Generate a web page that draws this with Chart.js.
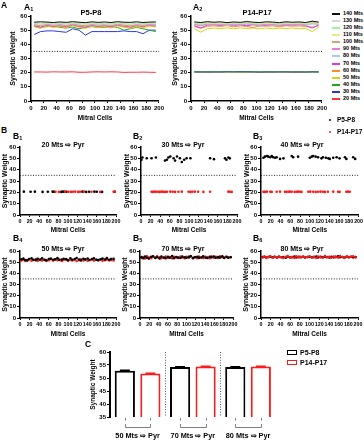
<!DOCTYPE html>
<html><head><meta charset="utf-8">
<script src="https://cdn.jsdelivr.net/npm/chart.js@4"></script>
<style>
body{margin:0;width:364px;height:440px;background:#fff;position:relative;overflow:hidden;font-family:"Liberation Sans",Arial,sans-serif;font-weight:bold;color:#000}
canvas{position:absolute}
.t{position:absolute;white-space:nowrap;line-height:1}
.t sub{font-size:65%;vertical-align:-0.3em;line-height:0}
.sw{position:absolute}
</style></head><body>
<script>
// ---------- DATA ----------
const X_MIN = 0, X_MAX = 200, X_STEP = 20;
const THRESHOLD = 35;
const MITRAL_X = [5,15,25,35,45,55,65,75,85,95,105,115,125,135,145,155,165,175,185,195];
const SERIES = ['20 Mts','30 Mts','40 Mts','50 Mts','60 Mts','70 Mts','80 Mts','90 Mts','100 Mts','110 Mts','120 Mts','130 Mts','140 Mts'];
const SERIES_COLORS = ['#ff3340','#2a36e0','#26a326','#d6d21e','#ff8a2a','#d63ae6','#9ecff2','#ee7fcf','#c9a57a','#ece98c','#9ff29a','#d6d6d6','#111111'];

// A1: P5-P8
const A1_20  = [20.5,20.5,20.4,20.6,20.5,20.5,20.6,20.3,20.3,20.5,20.6,20.5,20.6,20.5,20.2,20.3,20.3,20.4,20.3,20.2];
const A1_30  = [47.0,49.0,49.5,49.5,49.0,48.5,51.0,50.0,46.5,49.0,49.0,49.0,49.0,49.0,49.5,49.0,49.0,47.5,50.0,50.0];
const A1_40  = [53.0,52.0,52.5,53.0,52.0,51.5,52.2,51.0,52.0,52.5,52.0,52.0,52.5,52.0,50.0,51.0,52.0,51.0,50.0,49.0];
const A1_50  = [52.4,51.3,53.0,51.9,52.7,51.6,53.2,52.1,51.2,52.9,51.9,52.5,51.6,53.0,52.1,51.3,52.6,51.7,52.8,52.3];
const A1_60  = [52.9,51.8,53.4,52.4,53.1,52.0,53.6,52.6,51.8,53.3,52.4,53.0,52.1,53.5,52.6,51.9,53.1,52.4,53.3,52.7];
const A1_70  = [53.3,52.2,53.8,52.8,53.5,52.5,54.0,53.0,52.3,53.6,52.8,53.4,52.5,53.9,53.0,52.3,53.5,52.8,53.7,53.1];
const A1_80  = [53.7,52.9,54.0,53.3,53.8,53.0,54.2,53.4,52.8,53.9,53.3,53.7,53.0,54.1,53.4,52.8,53.8,53.2,53.9,53.5];
const A1_90  = [53.9,53.2,54.3,53.6,54.1,53.3,54.4,53.7,53.1,54.2,53.6,54.0,53.3,54.3,53.7,53.0,54.1,53.5,54.2,53.8];
const A1_100 = [54.2,53.6,54.6,53.9,54.4,53.7,54.7,54.0,53.5,54.5,53.9,54.3,53.7,54.6,54.0,53.4,54.4,53.8,54.5,54.1];
const A1_110 = [54.5,53.9,54.8,54.2,54.6,54.0,54.9,54.3,53.9,54.7,54.2,54.5,54.0,54.8,54.3,53.8,54.6,54.1,54.7,54.4];
const A1_120 = [54.8,54.4,55.1,54.6,54.9,54.5,55.0,54.7,54.4,55.1,54.6,54.9,54.5,55.0,54.7,54.3,54.9,54.6,55.1,54.8];
const A1_130 = [55.2,55.0,55.4,55.1,55.3,55.0,55.5,55.2,55.1,55.4,55.2,55.0,55.3,55.5,55.1,55.3,55.2,55.0,55.4,55.2];
const A1_140 = [55.6,55.9,55.7,55.4,55.8,55.5,56.0,55.6,55.3,55.9,55.5,55.8,55.4,56.0,55.6,55.5,55.9,55.4,55.7,55.8];

// A2: P14-P17
const A2_20  = [20.4,20.5,20.3,20.5,20.4,20.6,20.5,20.4,20.5,20.4,20.3,20.4,20.5,20.4,20.5,20.4,20.3,20.4,20.6,20.5];
const A2_30  = [20.6,20.5,20.6,20.5,20.6,20.7,20.6,20.8,20.7,20.6,20.5,20.6,20.5,20.6,20.6,20.5,20.6,20.5,20.6,20.5];
const A2_40  = [20.5,20.6,20.4,20.6,20.5,20.5,20.6,20.5,20.4,20.6,20.5,20.5,20.4,20.6,20.5,20.5,20.6,20.4,20.5,20.5];
const A2_50  = [51.0,48.6,51.0,51.5,51.0,51.6,51.0,51.5,51.2,51.5,51.0,51.5,51.0,51.4,51.2,51.5,51.0,51.2,49.0,52.0];
const A2_60  = [52.6,51.3,52.8,53.0,52.6,53.2,52.4,53.0,52.7,51.8,53.2,52.8,53.0,52.5,53.1,52.8,53.0,52.6,52.2,53.0];
const A2_70  = [53.2,51.6,53.6,53.8,53.3,53.9,53.4,53.7,53.1,53.8,52.9,53.5,53.8,53.2,53.7,53.4,53.9,53.3,51.5,53.6];
const A2_80  = [53.8,53.0,54.1,53.7,54.0,53.4,54.1,53.6,54.2,53.7,53.4,54.0,53.7,53.3,54.1,53.6,54.0,53.5,54.3,53.9];
const A2_90  = [54.1,53.4,54.4,54.0,54.3,53.7,54.4,53.9,54.5,54.0,53.7,54.3,54.0,53.6,54.4,53.9,54.3,53.8,56.5,54.2];
const A2_100 = [54.5,53.9,54.7,54.3,54.6,54.1,54.7,54.3,54.8,54.4,54.1,54.6,54.4,54.0,54.7,54.3,54.6,54.2,54.9,54.5];
const A2_110 = [54.8,54.3,55.0,54.6,54.9,54.4,55.0,54.6,55.1,54.7,54.4,54.9,54.7,54.3,55.0,54.6,54.9,54.5,55.2,54.8];
const A2_120 = [55.1,54.7,55.4,55.0,55.3,54.8,55.3,54.9,55.4,55.0,54.8,55.3,55.1,54.7,55.3,55.0,55.2,54.8,55.5,55.1];
const A2_130 = [55.4,55.1,55.6,55.3,55.5,55.0,55.6,55.2,55.7,55.3,55.1,55.5,55.4,55.0,55.6,55.3,55.5,55.1,55.8,55.4];
const A2_140 = [55.8,55.4,56.0,55.6,55.9,55.3,55.8,55.5,56.1,55.6,55.4,55.9,55.7,55.3,55.9,55.6,55.8,55.4,56.3,55.7];

const A1_SERIES = [A1_20,A1_30,A1_40,A1_50,A1_60,A1_70,A1_80,A1_90,A1_100,A1_110,A1_120,A1_130,A1_140];
const A2_SERIES = [A2_20,A2_30,A2_40,A2_50,A2_60,A2_70,A2_80,A2_90,A2_100,A2_110,A2_120,A2_130,A2_140];

// B panels (scatter): x = mitral cell, y = synaptic weight
const GROUPS = ['P5-P8','P14-P17'];
const B1_X_P5  = [8,22,31,47,58,68,71,86,89,92,97,130,138,144,155,160,171,197];
const B1_Y_P5  = [20.6,20.5,20.6,20.4,20.5,20.6,20.5,20.4,20.6,20.5,20.5,20.6,20.4,20.5,20.6,20.5,20.4,20.5];
const B1_X_P14 = [74,81,94,101,106,110,115,121,125,133,149,167,195,199];
const B1_Y_P14 = [20.5,20.4,20.6,20.5,20.4,20.5,20.6,20.4,20.5,20.6,20.5,20.4,20.5,20.6];

const B2_X_P5  = [1,3,12,22,31,50,54,57,61,68,71,75,81,85,90,95,103,144,152,175,178,182,185];
const B2_Y_P5  = [48.7,50.7,50.1,50.1,50.7,48.0,48.7,50.7,51.6,50.1,48.0,51.6,50.1,46.7,48.7,50.1,50.1,50.1,49.3,50.0,48.7,50.7,50.0];
const B2_X_P14 = [22,25,29,32,36,39,43,46,50,54,61,66,71,78,85,99,103,107,112,119,130,144,182,185,189];
const B2_Y_P14 = [20.5,20.4,20.6,20.5,20.5,20.4,20.6,20.5,20.4,20.5,20.6,20.5,20.4,20.5,20.6,20.5,20.4,20.5,20.6,20.5,20.4,20.5,20.6,20.5,20.4];

const B3_X_P5  = [5,8,12,15,19,22,25,29,32,39,46,63,66,76,100,104,107,112,117,124,127,133,138,141,148,155,161,172,175,189,193];
const B3_Y_P5  = [50.5,51.5,52.0,51.5,51.0,52.0,51.0,50.5,51.0,49.5,50.0,52.0,51.0,51.5,50.5,51.5,52.0,51.5,51.0,50.0,51.0,50.5,50.0,49.5,50.5,51.0,50.0,51.0,49.5,51.0,49.5];
const B3_X_P14 = [5,8,12,19,22,32,39,49,52,56,59,63,69,73,76,80,83,97,101,107,112,117,122,127,131,137,148,158,161,175,178,182];
const B3_Y_P14 = [20.5,20.4,20.6,20.5,20.4,20.5,20.6,20.5,20.4,20.5,20.6,20.5,20.4,20.5,20.6,20.5,20.4,20.5,20.6,20.5,20.4,20.5,20.6,20.5,20.4,20.5,20.6,20.5,20.4,20.5,20.6,20.5];

const B456_X = [3,7,11,15,19,24,28,33,37,42,46,51,55,60,64,69,73,78,82,87,91,96,100,105,109,114,118,123,127,132,136,141,145,150,154,159,163,168,172,177,181,186,190,195];
const B4_Y_P5  = [52.5,53.2,52,51.6,52.8,53.4,52.2,51.8,53,52.4,53.5,52,51.7,52.9,53.3,52.1,52.6,53.6,51.9,52.3,53.1,52.7,51.8,53.4,52.2,52.9,53.7,52.4,51.6,53,52.5,53.3,52,52.8,53.5,52.1,51.8,52.6,53.2,52.4,53.6,52.2,52.9,53.1];
const B4_Y_P14 = [51.6,52.2,51,51.8,52.5,51.3,51.9,52.7,51.2,52,51.5,52.3,51.1,51.8,52.6,51.4,52.1,51.7,52.4,51,51.9,52.5,51.3,52,51.6,52.2,51.1,51.8,52.6,51.5,52.3,51.2,51.9,52.4,51.4,52.1,51.7,52.5,51.2,51.8,52.3,51.5,52,51.6];
const B5_Y_P5  = [54.5,53.5,55,54,53.2,54.8,55.3,53.8,54.4,53.3,55.1,54.2,53.6,54.9,54,55.4,53.5,54.6,54.1,53.7,55,54.3,53.9,54.7,55.2,53.6,54.4,54.9,53.8,54.2,55.3,54,53.7,54.8,54.3,55.1,53.9,54.5,54.1,55.2,53.8,54.6,54,54.4];
const B5_Y_P14 = [53.8,54.6,53.3,55.2,54.1,53.5,54.8,53.9,55.3,54.4,53.6,54,55,53.7,54.5,53.4,54.9,54.2,53.8,55.1,54.3,53.6,54.7,54,55.4,53.9,54.6,53.5,55,54.2,53.7,54.8,54.4,53.6,55.2,54,54.7,53.8,55.3,54.5,53.9,55,54.1,54.6];
const B6_Y_P5  = [54.5,54.8,54.2,54.6,55,54.3,54.7,54.1,54.9,54.4,54.6,54,54.8,54.3,54.5,55.1,54.2,54.7,54.4,54.9,54.1,54.6,54.8,54.3,54.5,55,54.2,54.7,54.4,54.9,54.6,54.1,54.8,54.3,54.7,55.2,54.4,54.6,54.2,54.8,54.5,54.9,54.3,54.6];
const B6_Y_P14 = [54.2,55.1,53.8,54.6,55.3,54,54.8,53.9,55,54.4,53.7,54.9,55.4,54.1,54.5,53.8,55.2,54.3,54.7,55,53.9,54.6,55.3,54.2,54.8,53.7,55.1,54.4,54,55.5,54.3,54.7,53.9,55,54.5,54.1,55.4,54.6,53.8,55.2,54.3,54.9,55.3,54.2];

// C: bar chart
const C_LABELS   = ['50 Mts \u21E8 Pyr','70 Mts \u21E8 Pyr','80 Mts \u21E8 Pyr'];
const C_P5       = [52.8,54.2,54.2];
const C_P5_SEM   = [0.15,0.15,0.15];
const C_P14      = [51.7,54.4,54.4];
const C_P14_SEM  = [0.15,0.15,0.15];

// ---------- STYLE / HELPERS ----------
const BLACK = '#000', RED = '#ff1a1a';
Chart.defaults.font.family = '"Liberation Sans", Arial, sans-serif';
Chart.defaults.font.weight = 'bold';
Chart.defaults.color = '#000';

function label(html, x, y, size, align) {
  const d = document.createElement('div');
  d.className = 't'; d.innerHTML = html;
  d.style.fontSize = size + 'px'; d.style.left = x + 'px'; d.style.top = y + 'px';
  d.style.transform = align === 'center' ? 'translate(-50%,-50%)' : 'translate(0,-50%)';
  document.body.appendChild(d);
}
function swatch(x, y, w, h, css) {
  const d = document.createElement('div');
  d.className = 'sw';
  d.style.left = x + 'px'; d.style.top = y + 'px'; d.style.width = w + 'px'; d.style.height = h + 'px';
  Object.assign(d.style, css);
  document.body.appendChild(d);
}
function frame(box, plot) {
  const c = document.createElement('canvas');
  c.width = box.r - box.l; c.height = box.b - box.t;
  c.style.left = box.l + 'px'; c.style.top = box.t + 'px';
  document.body.appendChild(c);
  return { c, pad: { left: 0, top: plot.t - box.t, right: box.r - plot.r, bottom: 0 }, yW: plot.l - box.l, xH: box.b - plot.b };
}
function yAxis(f, o) {
  return { type: 'linear', position: 'left', min: o.min, max: o.max,
    afterFit(s) { s.width = f.yW; },
    ticks: { stepSize: o.step, font: { size: o.tick }, padding: 1, autoSkip: false },
    grid: { display: true, drawOnChartArea: false, drawTicks: true, tickLength: 3, color: BLACK, lineWidth: 1 },
    border: { display: true, color: BLACK, width: o.bw || 1.5 },
    title: { display: true, text: 'Synaptic Weight', font: { size: o.title }, padding: { top: o.tpad, bottom: 0 } } };
}
function xAxis(f, o) {
  return { type: 'linear', position: 'bottom', min: X_MIN, max: X_MAX,
    afterFit(s) { s.height = f.xH; },
    ticks: { stepSize: X_STEP, font: { size: o.tick }, padding: o.tp, autoSkip: false, maxRotation: 0, minRotation: 0 },
    grid: { display: true, drawOnChartArea: false, drawTicks: true, tickLength: 2, color: BLACK, lineWidth: 1 },
    border: { display: true, color: BLACK, width: 1.5 },
    title: { display: true, text: 'Mitral Cells', font: { size: o.title }, padding: { top: 0, bottom: o.tpad } } };
}
function baseOpts(f, scales) {
  return { responsive: false, animation: false, devicePixelRatio: 1, events: [],
    layout: { padding: f.pad },
    plugins: { legend: { display: false }, tooltip: { enabled: false }, title: { display: false } },
    scales };
}
function thresholdDS() {
  return { type: 'line', label: 'threshold', data: [{ x: X_MIN, y: THRESHOLD }, { x: X_MAX, y: THRESHOLD }],
    borderColor: '#222', borderWidth: 1, borderDash: [1, 1.6], pointRadius: 0, order: 50 };
}
const pts = (xs, ys) => xs.map((x, i) => ({ x, y: ys[i] }));

// ---------- PANEL A ----------
function lineChart(f, seriesArr) {
  const ds = [];
  for (let k = seriesArr.length - 1; k >= 0; k--) {
    ds.push({ type: 'line', label: SERIES[k], data: pts(MITRAL_X, seriesArr[k]),
      borderColor: SERIES_COLORS[k], borderWidth: 1, pointRadius: 0, tension: 0, order: seriesArr.length - k });
  }
  ds.push(thresholdDS());
  new Chart(f.c, { type: 'line', data: { datasets: ds },
    options: baseOpts(f, {
      x: xAxis(f, { tick: 6, tp: 2, title: 6.5, tpad: 2 }),
      y: yAxis(f, { min: 0, max: 60, step: 10, tick: 6, title: 7, tpad: f.ytp })
    }) });
}
const fA1 = frame({ l: 4, t: 8, r: 166, b: 124 }, { l: 31, t: 16, r: 159, b: 101 }); fA1.ytp = 5;
lineChart(fA1, A1_SERIES);
const fA2 = frame({ l: 170, t: 8, r: 329, b: 124 }, { l: 191, t: 16, r: 322, b: 101 }); fA2.ytp = 1;
lineChart(fA2, A2_SERIES);

// legend A2
for (let i = 0; i < SERIES.length; i++) {
  const k = SERIES.length - 1 - i;
  const y = 14 + i * 7.08;
  swatch(332, y - 1, 8, 2, { background: SERIES_COLORS[k] });
  label(SERIES[k], 343, y, 5.5);
}

// ---------- PANEL B ----------
function scatterChart(f, p5, p14) {
  const ds = [
    { type: 'scatter', label: GROUPS[0], data: p5, pointRadius: 1.3, pointBackgroundColor: BLACK, pointBorderWidth: 0, order: 2 },
    { type: 'scatter', label: GROUPS[1], data: p14, pointRadius: 1.3, pointBackgroundColor: RED, pointBorderWidth: 0, order: f.redOrder || 1 },
    thresholdDS()
  ];
  new Chart(f.c, { type: 'scatter', data: { datasets: ds },
    options: baseOpts(f, {
      x: xAxis(f, { tick: 5.3, tp: 1, title: 6.5, tpad: f.xtp }),
      y: yAxis(f, { min: 0, max: 60, step: 10, tick: 6, title: 7, tpad: f.ytp })
    }) });
}
const ROW1 = { t: 141, pt: 147, pb: 215, b: 236 };
const ROW2 = { t: 245, pt: 251, pb: 318, b: 340 };
const fB1 = frame({ l: 0, t: ROW1.t, r: 123, b: ROW1.b }, { l: 20, t: ROW1.pt, r: 116, b: ROW1.pb }); fB1.ytp = 1; fB1.xtp = 2;
scatterChart(fB1, pts(B1_X_P5, B1_Y_P5), pts(B1_X_P14, B1_Y_P14));
const fB2 = frame({ l: 121, t: ROW1.t, r: 244, b: ROW1.b }, { l: 141, t: ROW1.pt, r: 237, b: ROW1.pb }); fB2.ytp = 2; fB2.xtp = 2;
scatterChart(fB2, pts(B2_X_P5, B2_Y_P5), pts(B2_X_P14, B2_Y_P14));
const fB3 = frame({ l: 241, t: ROW1.t, r: 364, b: ROW1.b }, { l: 261, t: ROW1.pt, r: 359, b: ROW1.pb }); fB3.ytp = 2; fB3.xtp = 2;
scatterChart(fB3, pts(B3_X_P5, B3_Y_P5), pts(B3_X_P14, B3_Y_P14));
const fB4 = frame({ l: 0, t: ROW2.t, r: 123, b: ROW2.b }, { l: 20, t: ROW2.pt, r: 116, b: ROW2.pb }); fB4.ytp = 1; fB4.xtp = 2; fB4.redOrder = 3;
scatterChart(fB4, pts(B456_X, B4_Y_P5), pts(B456_X, B4_Y_P14));
const fB5 = frame({ l: 120, t: ROW2.t, r: 240, b: ROW2.b }, { l: 140, t: ROW2.pt, r: 233, b: ROW2.pb }); fB5.ytp = 1; fB5.xtp = 2; fB5.redOrder = 3;
scatterChart(fB5, pts(B456_X, B5_Y_P5), pts(B456_X, B5_Y_P14));
const fB6 = frame({ l: 241, t: ROW2.t, r: 364, b: ROW2.b }, { l: 261, t: ROW2.pt, r: 358, b: ROW2.pb }); fB6.ytp = 1; fB6.xtp = 2;
scatterChart(fB6, pts(B456_X, B6_Y_P5), pts(B456_X, B6_Y_P14));

// legend B
swatch(328.7, 118.7, 2.6, 2.6, { background: BLACK, borderRadius: '50%' });
label(GROUPS[0], 337, 120, 6.5);
swatch(328.7, 130.7, 2.6, 2.6, { background: RED, borderRadius: '50%' });
label(GROUPS[1], 337, 132, 6.5);

// ---------- PANEL C ----------
const cExtras = { id: 'cExtras', afterDatasetsDraw(chart) {
  const { ctx, chartArea: a, scales: { x, y } } = chart;
  ctx.save();
  chart.data.datasets.forEach((ds, di) => {
    chart.getDatasetMeta(di).data.forEach((bar, i) => {
      const v = ds.data[i], e = ds.err[i];
      const yt = y.getPixelForValue(v + e), yb = y.getPixelForValue(v - e);
      ctx.strokeStyle = ds.borderColor; ctx.lineWidth = 1.5;
      ctx.beginPath(); ctx.moveTo(bar.x, yt); ctx.lineTo(bar.x, yb);
      ctx.moveTo(bar.x - 5, yt); ctx.lineTo(bar.x + 5, yt); ctx.stroke();
    });
  });
  ctx.strokeStyle = '#555'; ctx.lineWidth = 1; ctx.setLineDash([1, 1.6]);
  for (let i = 0; i < chart.data.labels.length - 1; i++) {
    const xm = Math.round((x.getPixelForValue(i) + x.getPixelForValue(i + 1)) / 2) + 0.5;
    ctx.beginPath(); ctx.moveTo(xm, a.top); ctx.lineTo(xm, a.bottom); ctx.stroke();
  }
  ctx.setLineDash([]);
  const m0 = chart.getDatasetMeta(0), m1 = chart.getDatasetMeta(1);
  ctx.strokeStyle = '#808080'; ctx.lineWidth = 1;
  m0.data.forEach((b0, i) => {
    const x0 = Math.round(b0.x) + 0.5, x1 = Math.round(m1.data[i].x) + 0.5, yb = a.bottom;
    ctx.beginPath();
    ctx.moveTo(x0, yb + 1); ctx.lineTo(x0, yb + 3.5);
    ctx.moveTo(x1, yb + 1); ctx.lineTo(x1, yb + 3.5);
    ctx.moveTo(x0, yb + 7); ctx.lineTo(x0, yb + 10.5); ctx.lineTo(x1, yb + 10.5); ctx.lineTo(x1, yb + 7);
    ctx.stroke();
  });
  ctx.restore();
} };
const fC = frame({ l: 87, t: 346, r: 286, b: 440 }, { l: 110, t: 352, r: 282, b: 417 });
new Chart(fC.c, { type: 'bar',
  data: { labels: C_LABELS, datasets: [
    { label: GROUPS[0], data: C_P5, err: C_P5_SEM, backgroundColor: '#fff', borderColor: BLACK, borderWidth: 2, borderSkipped: false, categoryPercentage: 0.925, barPercentage: 0.79 },
    { label: GROUPS[1], data: C_P14, err: C_P14_SEM, backgroundColor: '#fff', borderColor: RED, borderWidth: 2, borderSkipped: false, categoryPercentage: 0.925, barPercentage: 0.79 }
  ] },
  options: baseOpts(fC, {
    x: { type: 'category', afterFit(s) { s.height = fC.xH; }, grid: { display: false, drawTicks: false }, border: { display: false },
         ticks: { font: { size: 7.3 }, padding: 15, maxRotation: 0, minRotation: 0, autoSkip: false } },
    y: yAxis(fC, { min: 35, max: 60, step: 5, tick: 6, title: 6.5, tpad: 2, bw: 2 })
  }),
  plugins: [cExtras] });

// legend C
swatch(287, 349.5, 10, 5, { border: '1.6px solid ' + BLACK, boxSizing: 'border-box' });
label(GROUPS[0], 300, 352, 7);
swatch(287, 359.5, 10, 5, { border: '1.6px solid ' + RED, boxSizing: 'border-box' });
label(GROUPS[1], 300, 362, 7);

// ---------- LABELS ----------
label('A', 1, 5, 8.5);
label('A<sub>1</sub>', 24, 7, 8.5);
label('A<sub>2</sub>', 193, 7, 8.5);
label('P5-P8', 91, 13, 7.5, 'center');
label('P14-P17', 257, 13, 7.5, 'center');
label('B', 1, 130, 8.5);
label('B<sub>1</sub>', 13, 136, 8.5);
label('B<sub>2</sub>', 133, 136, 8.5);
label('B<sub>3</sub>', 253, 136, 8.5);
label('B<sub>4</sub>', 13, 238, 8.5);
label('B<sub>5</sub>', 133, 238, 8.5);
label('B<sub>6</sub>', 253, 238, 8.5);
label('C', 85, 344, 8.5);
const B_TITLES = ['20 Mts \u21E8 Pyr','30 Mts \u21E8 Pyr','40 Mts \u21E8 Pyr','50 Mts \u21E8 Pyr','70 Mts \u21E8 Pyr','80 Mts \u21E8 Pyr'];
label(B_TITLES[0], 63, 144, 7, 'center');
label(B_TITLES[1], 183, 144, 7, 'center');
label(B_TITLES[2], 302, 144, 7, 'center');
label(B_TITLES[3], 63, 248, 7, 'center');
label(B_TITLES[4], 183, 248, 7, 'center');
label(B_TITLES[5], 302, 248, 7, 'center');
</script>
</body></html>
